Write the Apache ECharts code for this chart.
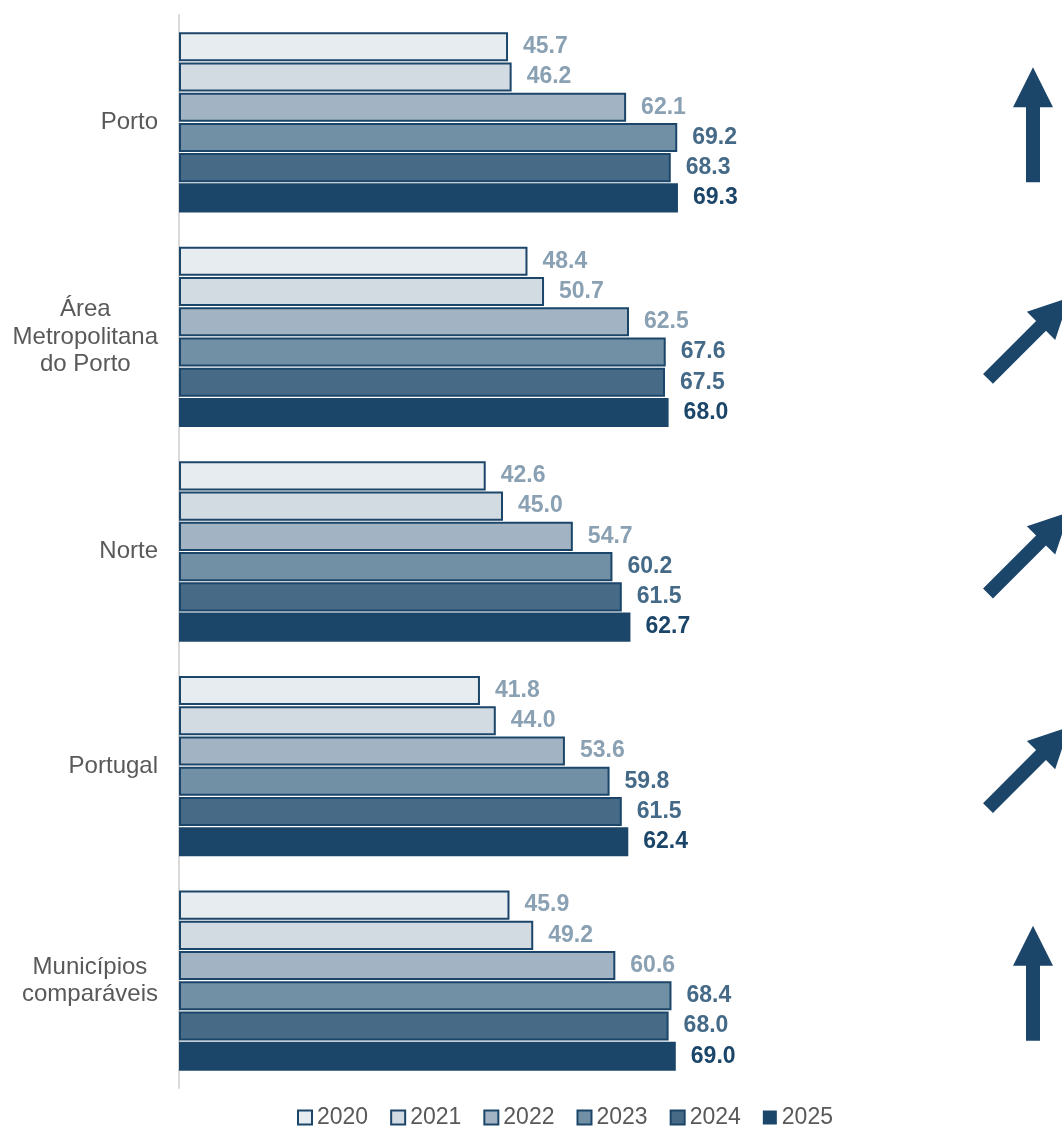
<!DOCTYPE html>
<html><head><meta charset="utf-8">
<script src="https://cdn.jsdelivr.net/npm/echarts@6/dist/echarts.min.js"></script>
<style>html,body{margin:0;padding:0;background:#fff}#c{width:1062px;height:1128px}</style>
</head><body><div id="c"></div>
<script>
const categories = ['Porto', 'Área\nMetropolitana\ndo Porto', 'Norte', 'Portugal', 'Municípios\ncomparáveis'];
const years = ['2020', '2021', '2022', '2023', '2024', '2025'];
const v2020 = [45.7, 48.4, 42.6, 41.8, 45.9];
const v2021 = [46.2, 50.7, 45.0, 44.0, 49.2];
const v2022 = [62.1, 62.5, 54.7, 53.6, 60.6];
const v2023 = [69.2, 67.6, 60.2, 59.8, 68.4];
const v2024 = [68.3, 67.5, 61.5, 61.5, 68.0];
const v2025 = [69.3, 68.0, 62.7, 62.4, 69.0];
const trends = ['up', 'diag', 'diag', 'diag', 'up'];

const values = [v2020, v2021, v2022, v2023, v2024, v2025];
const fills = ['#e7ecf0', '#d2dae2', '#a2b4c3', '#7190a6', '#476b87', '#1c4669'];
const labelColors = ['#8aa0b3', '#8aa0b3', '#8aa0b3', '#456a87', '#456a87', '#1c4669'];
const dark = '#1c4669';
const FONT = 'Liberation Sans, Arial, sans-serif';

const chart = echarts.init(document.getElementById('c'), null, {renderer: 'canvas'});

const series = years.map((y, i) => ({
  name: y,
  type: 'bar',
  data: values[i],
  barCategoryGap: '16%',
  barGap: '4%',
  itemStyle: {color: fills[i], borderColor: dark, borderWidth: i === 5 ? 0 : 2},
  label: {
    show: true, position: 'right', distance: 15,
    formatter: p => p.value.toFixed(1),
    color: labelColors[i], fontWeight: 'bold', fontSize: 23,
    fontFamily: FONT
  },
  emphasis: {disabled: true},
  animation: false
}));

chart.setOption({
  animation: false,
  grid: {left: 179, top: 15, width: 720, height: 1073},
  legend: {
    data: years, left: 297, top: 1106, padding: 0, itemWidth: 14, itemHeight: 14, itemGap: 22,
    icon: 'rect',
    textStyle: {color: '#595959', fontSize: 23, fontFamily: FONT}
  },
  xAxis: {type: 'value', min: 0, max: 100, show: false},
  yAxis: {
    type: 'category', data: categories, inverse: true,
    axisLine: {show: true, lineStyle: {color: '#d9d9d9', width: 2}},
    axisTick: {show: false},
    axisLabel: {
      margin: 21, align: 'right',
      formatter: v => v.split('\n').map(s => '{c|' + s + '}').join('\n'),
      rich: {c: {align: 'center', color: '#595959', fontSize: 24, lineHeight: 27.5, fontFamily: FONT}}
    }
  },
  series: series
});

function arrowShape() {
  return [[-7, 0], [7, 0], [7, -75], [20, -75], [0, -115], [-20, -75], [-7, -75]];
}
const g = categories.map((c, i) => {
  const yc = chart.convertToPixel({yAxisIndex: 0}, i);
  const up = trends[i] === 'up';
  return {
    type: 'polygon',
    x: up ? 1033 : 988,
    y: up ? yc + 60 : yc + 42,
    rotation: up ? 0 : -Math.PI / 4,
    shape: {points: arrowShape()},
    style: {fill: dark},
    silent: true
  };
});
chart.setOption({graphic: g});
</script></body></html>
